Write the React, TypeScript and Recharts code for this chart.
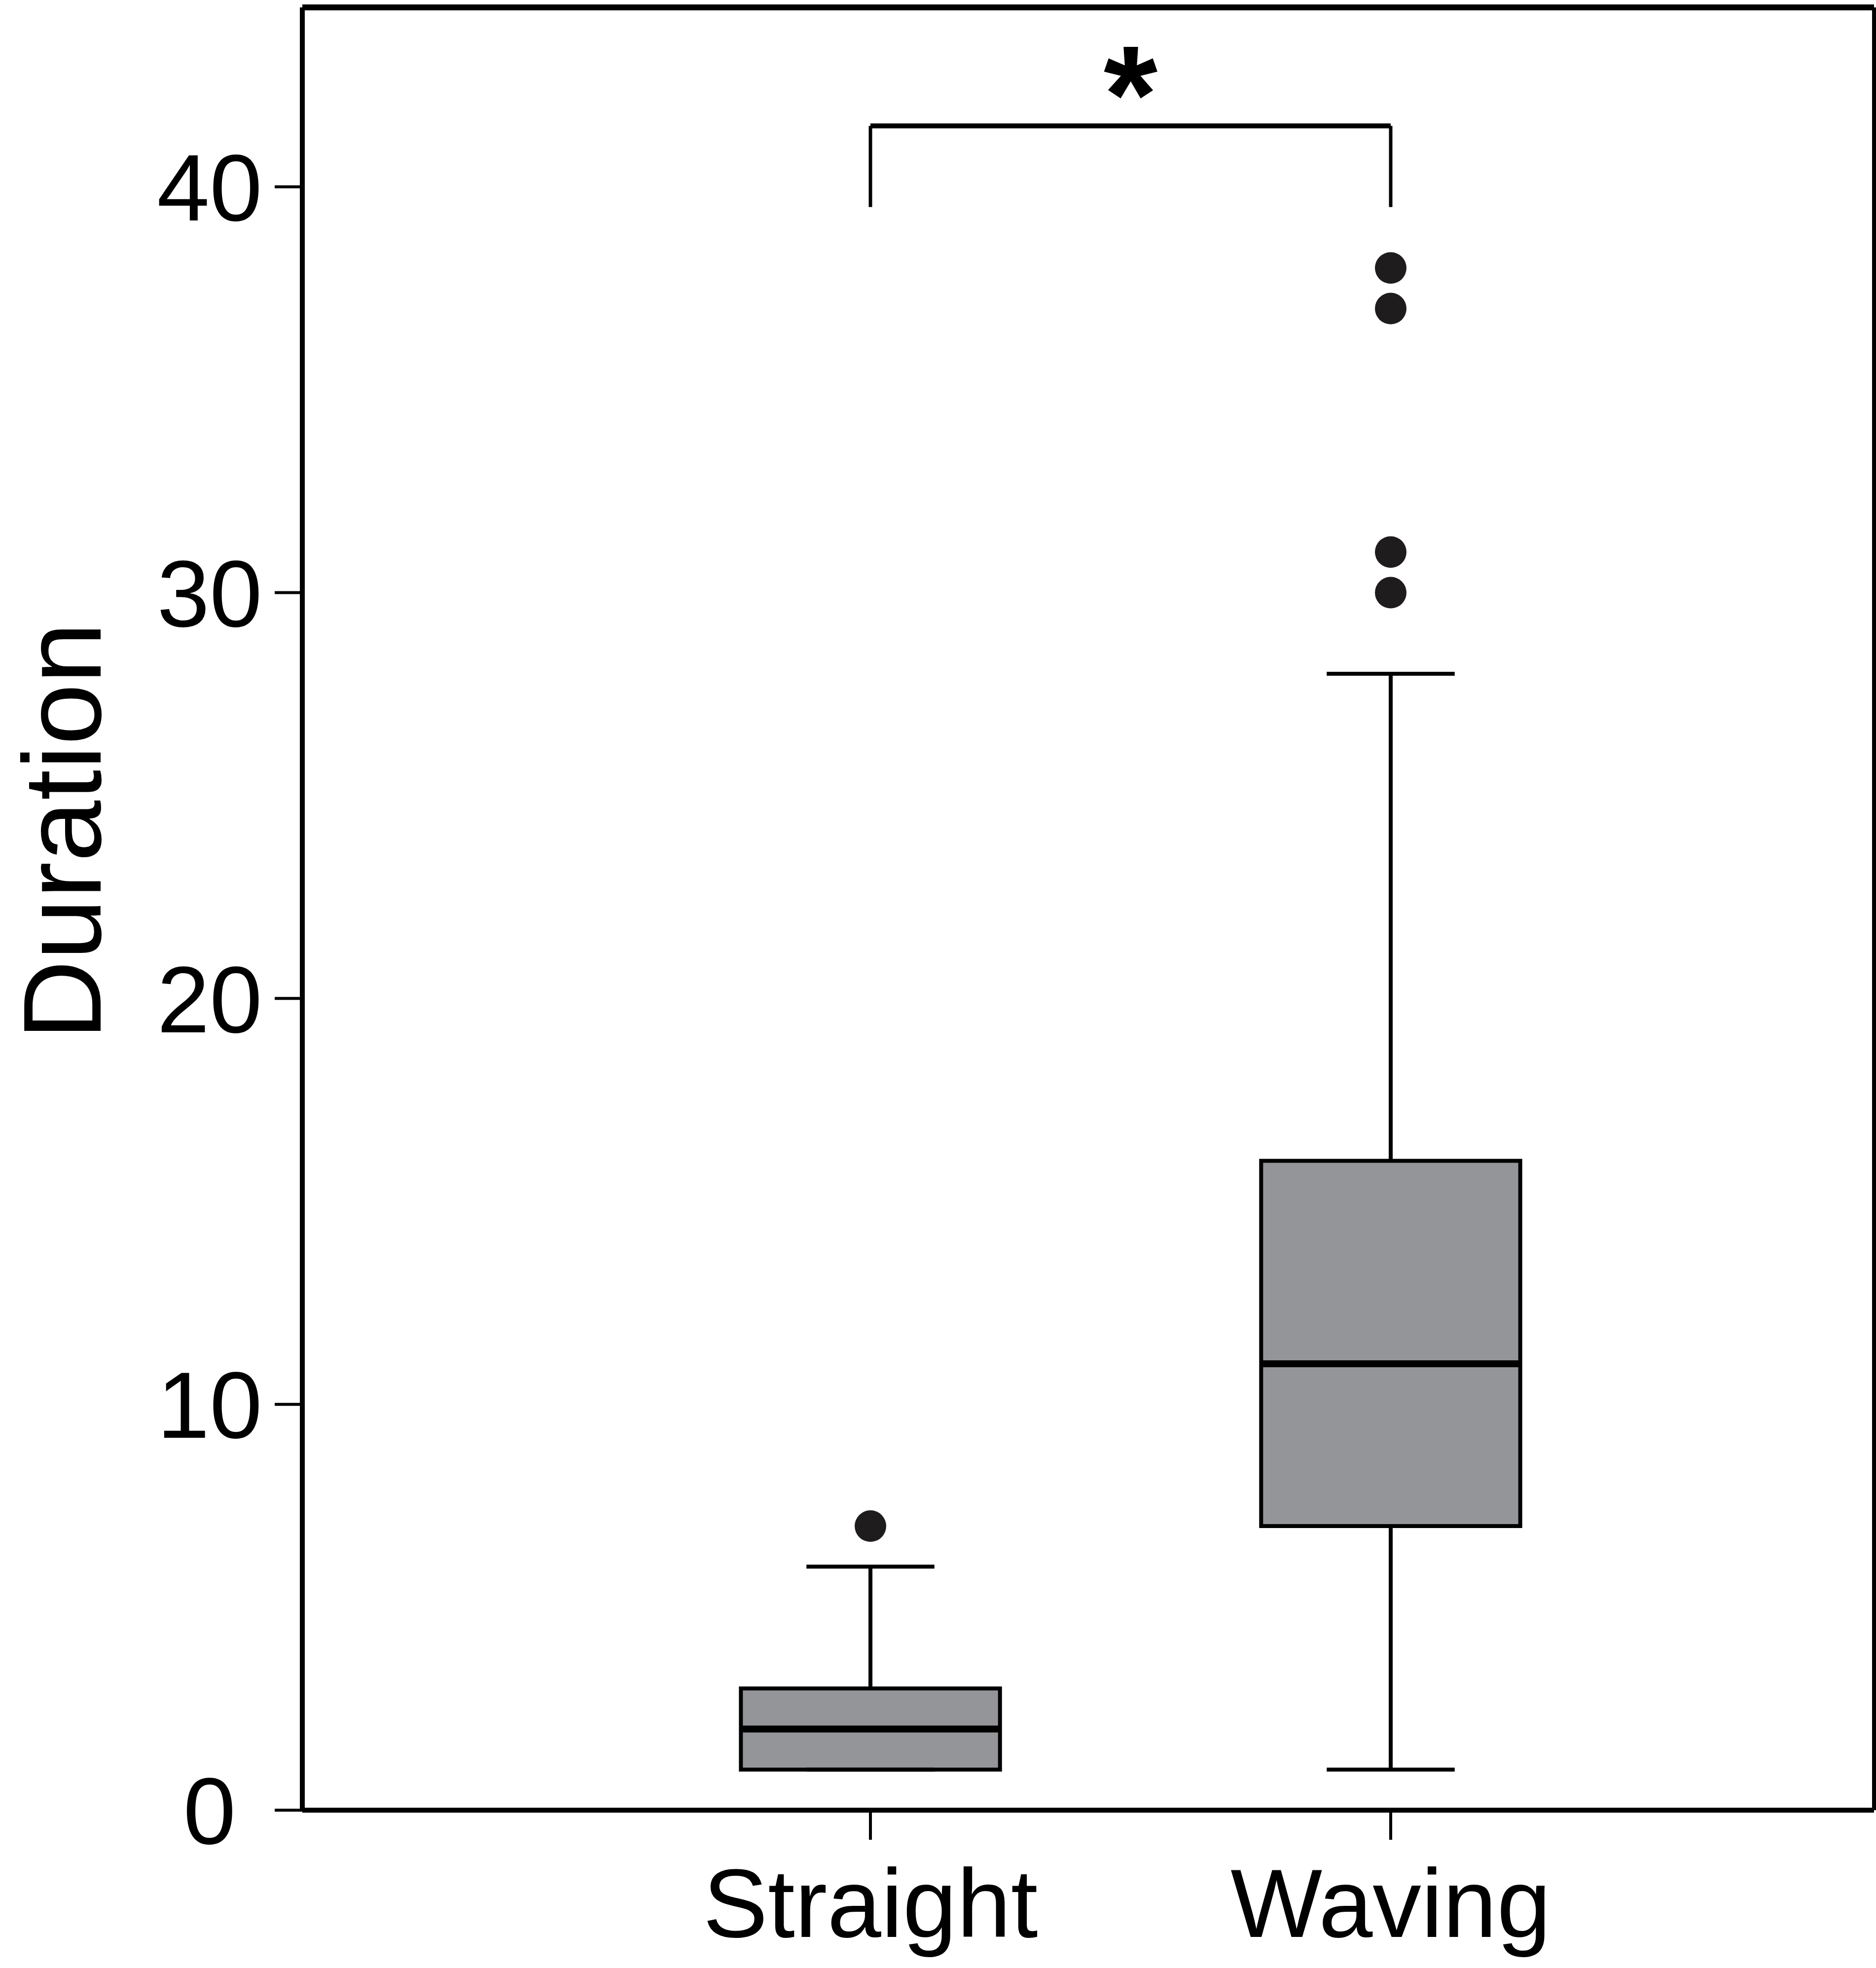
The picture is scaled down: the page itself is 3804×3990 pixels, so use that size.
import { ComposedChart, XAxis, YAxis, Scatter, ReferenceArea, ReferenceLine, Label } from 'recharts';

const categories = ['Straight', 'Waving'];
const whiskerLow = [1, 1];
const boxLow = [1, 7];
const medians = [2, 11];
const boxHigh = [3, 16];
const whiskerHigh = [6, 28];
const outliers = [[7], [30, 31, 37, 38]];
const yTicks = [0, 10, 20, 30, 40];
const xTicks = [1, 2];
const bracketTop = 41.5;
const bracketLeg = 39.5;
const bracketMark = '*';

const W = 3804;
const H = 3990;
const FONT = '"Liberation Sans", Arial, sans-serif';
const BOX_HALF = 0.249;
const CAP_HALF = 0.123;
const BOX_FILL = '#949599';
const INK = '#000';

const outlierPoints = outliers.flatMap((vals, i) => vals.map((y) => ({ x: i + 1, y })));

function OutlierDot(props: any) {
  return <circle cx={props.cx} cy={props.cy} r={32} fill="#1e1c1d" />;
}

// the reference centres its y tick labels instead of right-aligning them
function YTick(props: any) {
  const { x, y, payload } = props;
  return (
    <text x={x - 103} y={y} dy="0.355em" textAnchor="middle" fill={INK} fontSize={192} fontFamily={FONT}>
      {payload.value}
    </text>
  );
}

export default function App() {
  return (
    <div style={{ width: W, height: H, background: '#fff' }}>
      <style>{`body{margin:0}`}</style>
      <ComposedChart
        width={W}
        height={H}
        margin={{ top: 15, right: 4, bottom: 0, left: 0 }}
        style={{ fontFamily: FONT }}
      >
        <XAxis
          type="number"
          dataKey="x"
          domain={[-0.092, 2.929]}
          allowDataOverflow
          ticks={xTicks}
          tickFormatter={(v) => categories[v - 1] ?? ''}
          height={320}
          tickSize={60}
          tickMargin={57}
          axisLine={{ stroke: INK, strokeWidth: 10 }}
          tickLine={{ stroke: INK, strokeWidth: 6 }}
          tick={{ fill: INK, fontSize: 197, fontFamily: FONT }}
        />
        <YAxis
          type="number"
          dataKey="y"
          domain={[0, 44.42]}
          allowDataOverflow
          ticks={yTicks}
          width={613}
          tickSize={56}
          tickMargin={29}
          axisLine={{ stroke: INK, strokeWidth: 10 }}
          tickLine={{ stroke: INK, strokeWidth: 6 }}
          tick={YTick}
        >
          <Label
            content={() => (
              <text
                x={204}
                y={1685}
                transform="rotate(-90 204 1685)"
                textAnchor="middle"
                fill={INK}
                fontSize={224}
                fontFamily={FONT}
              >
                Duration
              </text>
            )}
          />
        </YAxis>

        {/* frame top and right */}
        <ReferenceLine y={44.42} stroke={INK} strokeWidth={12} />
        <ReferenceLine x={2.929} stroke={INK} strokeWidth={8} />

        {categories.map((c, i) => {
          const x = i + 1;
          return [
            <ReferenceLine
              key={`wu-${c}`}
              segment={[{ x, y: boxHigh[i] }, { x, y: whiskerHigh[i] }]}
              stroke={INK}
              strokeWidth={8}
            />,
            <ReferenceLine
              key={`wl-${c}`}
              segment={[{ x, y: whiskerLow[i] }, { x, y: boxLow[i] }]}
              stroke={INK}
              strokeWidth={8}
            />,
            <ReferenceLine
              key={`cu-${c}`}
              segment={[{ x: x - CAP_HALF, y: whiskerHigh[i] }, { x: x + CAP_HALF, y: whiskerHigh[i] }]}
              stroke={INK}
              strokeWidth={8}
            />,
            <ReferenceLine
              key={`cl-${c}`}
              segment={[{ x: x - CAP_HALF, y: whiskerLow[i] }, { x: x + CAP_HALF, y: whiskerLow[i] }]}
              stroke={INK}
              strokeWidth={8}
            />,
            <ReferenceArea
              key={`box-${c}`}
              x1={x - BOX_HALF}
              x2={x + BOX_HALF}
              y1={boxLow[i]}
              y2={boxHigh[i]}
              fill={BOX_FILL}
              fillOpacity={1}
              stroke={INK}
              strokeWidth={8}
            />,
            <ReferenceLine
              key={`med-${c}`}
              segment={[{ x: x - BOX_HALF, y: medians[i] }, { x: x + BOX_HALF, y: medians[i] }]}
              stroke={INK}
              strokeWidth={14}
            />,
          ];
        })}

        {/* significance bracket */}
        <ReferenceLine segment={[{ x: 1, y: bracketLeg }, { x: 1, y: bracketTop }]} stroke={INK} strokeWidth={7} />
        <ReferenceLine segment={[{ x: 2, y: bracketLeg }, { x: 2, y: bracketTop }]} stroke={INK} strokeWidth={7} />
        <ReferenceLine
          segment={[{ x: 1, y: bracketTop }, { x: 2, y: bracketTop }]}
          stroke={INK}
          strokeWidth={10}
          label={{
            value: bracketMark,
            position: 'top',
            offset: -33,
            fontSize: 281,
            fontWeight: 'bold',
            fill: INK,
            fontFamily: FONT,
          }}
        />

        <Scatter data={outlierPoints} dataKey="y" shape={OutlierDot} isAnimationActive={false} />
      </ComposedChart>
    </div>
  );
}
